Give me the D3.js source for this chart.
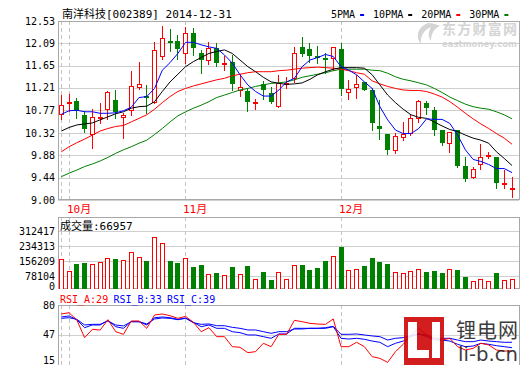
<!DOCTYPE html>
<html>
<head>
<meta charset="utf-8">
<script src="https://cdn.jsdelivr.net/npm/d3@7"></script>
<style>
body { margin: 0; background: #fff; }
svg { display: block; }
</style>
</head>
<body>
<svg id="main" width="520" height="365"></svg>
<script>
const title = "南洋科技[002389] 2014-12-31";
const priceTicks = [9.00, 9.44, 9.88, 10.32, 10.77, 11.21, 11.65, 12.09, 12.53];
const volTicks = [0, 78104, 156209, 234313, 312417];
const rsiTicks = [15, 47, 80];
const monthStarts = [0, 1, 16, 36];
const monthIdx = [1, 16, 36];
const monthNames = ["10月", "11月", "12月"];
const maNames = ["5PMA", "10PMA", "20PMA", "30PMA"];
const rsiNames = ["RSI_A:29", "RSI_B:33", "RSI_C:39"];
const volTitle = "成交量:66957";

const open = [10.69,10.92,10.95,10.67,10.31,10.61,10.79,10.97,10.63,10.77,
  11.22,11.05,10.93,11.83,12.14,12.13,11.89,12.29,11.89,11.76,
  11.99,11.70,11.72,11.16,11.15,10.92,11.29,11.11,10.86,11.30,
  11.40,12.01,11.97,11.84,11.80,11.81,11.97,11.13,11.22,11.32,
  11.17,10.46,10.30,9.99,10.25,10.33,10.61,10.92,10.77,10.38,
  10.13,10.38,9.67,9.45,9.71,9.88,9.84,9.32,9.23];
const close = [10.87,10.93,10.76,10.41,10.64,10.63,11.12,10.73,10.67,11.24,
  11.28,11.03,11.95,12.19,12.13,11.98,12.29,12.00,11.77,11.99,
  11.70,11.71,11.28,11.22,10.93,10.93,11.17,10.94,11.31,11.31,
  11.89,11.87,11.83,11.83,11.79,12.01,11.18,11.18,11.29,11.17,
  10.52,10.41,9.99,10.26,10.31,10.61,10.95,10.81,10.39,10.13,
  10.35,9.67,9.41,9.62,9.85,9.89,9.33,9.33,9.24];
const high = [11.07,11.09,11.02,10.76,10.79,10.91,11.14,11.17,10.71,11.54,
  11.72,11.27,12.12,12.43,12.37,12.25,12.42,12.39,11.95,12.12,
  12.09,11.83,11.86,11.49,11.20,11.00,11.35,11.23,11.46,11.43,
  12.02,12.22,12.09,12.04,11.89,12.02,12.09,11.37,11.46,11.33,
  11.20,10.97,10.30,10.33,10.53,10.70,10.98,10.96,10.84,10.39,
  10.35,10.39,9.84,9.66,10.10,9.95,9.85,9.59,9.45];
const low = [10.59,10.76,10.62,10.35,10.03,10.51,10.60,10.61,10.22,10.68,
  11.18,10.72,10.91,11.79,11.93,11.79,11.71,11.86,11.50,11.68,
  11.65,11.56,11.17,11.05,10.76,10.79,11.00,10.91,10.84,11.20,
  11.33,11.83,11.73,11.70,11.50,11.56,11.07,11.00,11.02,11.16,
  10.39,10.20,9.91,9.93,10.18,10.28,10.54,10.70,10.28,10.08,
  9.95,9.66,9.38,9.43,9.62,9.82,9.23,9.23,9.05];
const volume = [169000,107000,143000,148000,143000,154000,174000,166000,164000,206000,
  180000,159000,279000,253000,160000,145000,174000,124000,138000,91000,
  96000,86000,124000,91000,133000,65000,102000,60000,100000,65000,
  138000,138000,112000,122000,159000,185000,228000,112000,117000,133000,
  171000,150000,143000,100000,95000,107000,117000,102000,107000,96000,
  117000,112000,77000,55000,65000,55000,96000,60000,66957];

const ma5 = [10.69,10.76,10.77,10.74,10.74,10.71,10.71,10.72,10.76,10.83,
  11.02,11.04,11.20,11.56,11.71,11.89,12.11,12.11,12.06,12.02,
  11.99,11.86,11.70,11.47,11.27,11.14,11.05,11.05,11.17,11.33,
  11.40,11.63,11.76,11.81,11.87,11.83,11.63,11.56,11.47,11.33,
  11.20,10.84,10.58,10.38,10.31,10.31,10.41,10.60,10.59,10.59,
  10.51,10.28,9.99,9.80,9.76,9.70,9.62,9.62,9.54];
const ma10 = [10.36,10.43,10.48,10.50,10.52,10.58,10.64,10.70,10.74,10.81,
  10.84,10.85,10.94,11.14,11.33,11.48,11.63,11.73,11.81,11.89,
  11.93,11.96,11.89,11.76,11.63,11.53,11.42,11.33,11.30,11.28,
  11.29,11.31,11.38,11.47,11.53,11.58,11.61,11.61,11.61,11.60,
  11.47,11.27,11.07,10.92,10.79,10.68,10.63,10.61,10.54,10.46,
  10.39,10.35,10.28,10.22,10.18,10.12,9.95,9.82,9.68];
const ma20 = [9.95,10.05,10.13,10.20,10.28,10.36,10.41,10.45,10.47,10.54,
  10.61,10.68,10.79,10.92,11.04,11.14,11.20,11.25,11.29,11.33,
  11.37,11.40,11.45,11.48,11.51,11.53,11.53,11.53,11.55,11.56,
  11.58,11.60,11.61,11.62,11.61,11.60,11.58,11.55,11.51,11.48,
  11.35,11.29,11.24,11.20,11.17,11.16,11.16,11.14,11.09,11.03,
  10.94,10.83,10.71,10.60,10.50,10.41,10.31,10.22,10.10];
const ma30 = [9.46,9.53,9.59,9.66,9.71,9.77,9.84,9.92,9.99,10.05,
  10.12,10.18,10.29,10.41,10.54,10.66,10.74,10.81,10.87,10.94,
  11.02,11.07,11.12,11.17,11.20,11.24,11.27,11.30,11.31,11.33,
  11.37,11.42,11.45,11.48,11.51,11.55,11.58,11.58,11.58,11.58,
  11.56,11.55,11.50,11.43,11.38,11.35,11.31,11.27,11.20,11.12,
  11.03,10.96,10.89,10.84,10.81,10.79,10.74,10.68,10.60];

const rsiA = [70.1,71.5,63.5,44.0,53.2,52.4,63.8,50.6,47.7,62.4,
  62.4,54.3,69.0,70.1,68.2,65.3,67.5,60.9,50.6,55.0,
  45.1,45.1,34.1,33.4,27.5,28.6,37.8,34.1,47.7,47.7,
  63.1,61.6,59.8,59.0,58.7,64.6,34.1,34.1,38.9,34.1,
  23.1,21.2,16.8,28.6,36.7,47.0,54.3,47.0,43.3,41.4,
  43.3,34.1,30.4,32.3,37.8,36.0,30.4,29.3,29.3];
const rsiB = [66.8,67.9,63.8,55.0,58.0,58.0,63.1,56.1,54.3,61.6,
  61.6,58.0,66.0,66.8,66.0,64.2,65.7,60.9,56.1,58.0,
  54.3,54.3,50.6,49.5,47.0,47.0,45.1,43.3,48.1,48.1,
  54.3,54.3,54.3,54.3,54.3,56.1,43.3,42.5,43.3,42.2,
  40.3,38.9,34.1,37.8,40.3,45.1,48.8,45.1,41.4,41.4,
  40.3,36.7,34.1,34.8,37.8,36.7,35.2,34.1,33.0];
const rsiC = [65.3,66.0,64.2,58.0,58.7,58.7,62.4,58.0,56.9,61.6,
  61.6,59.1,64.6,65.7,65.3,63.8,65.3,60.5,58.7,59.1,
  57.2,57.2,55.4,54.3,52.5,52.5,50.6,48.8,50.6,50.6,
  53.6,53.6,54.3,54.3,55.0,56.5,47.7,47.7,48.1,47.0,
  45.9,45.1,41.4,43.3,44.0,46.2,47.7,47.0,43.3,43.3,
  43.3,41.4,39.6,39.6,41.4,40.3,39.6,38.9,38.9];

const UP = '#ff0000', DOWN = '#008000';
const MONO = "'DejaVu Sans Mono', 'Noto Sans CJK SC', monospace";

function draw() {
    const svg = d3.select("#main");
    const L = 58, R = 519;
    const x = d3.scaleLinear().domain([0, open.length - 1]).range([60.8, 511.5]);
    const yP = d3.scaleLinear().domain([9, 12.53]).range([200, 21]);
    const yV = d3.scaleLinear().domain([0, 312417]).range([291.5, 231]);
    const yR = d3.scaleLinear().domain([15, 80]).range([364, 305]);
    const px = i => Math.round(x(i));
    const crisp = v => Math.round(v) + 0.5;

    const defs = svg.append('defs');
    defs.append('clipPath').attr('id', 'cMain').append('rect').attr('x', L).attr('y', 21).attr('width', R - L).attr('height', 179);
    defs.append('clipPath').attr('id', 'cVol').append('rect').attr('x', L).attr('y', 217).attr('width', R - L).attr('height', 72);
    defs.append('clipPath').attr('id', 'cRsi').append('rect').attr('x', L).attr('y', 305).attr('width', R - L).attr('height', 60);

    // grid lines
    const grid = svg.append('g').attr('stroke', '#cfcfcf').attr('shape-rendering', 'crispEdges');
    priceTicks.forEach(t => grid.append('line').attr('x1', L).attr('x2', R).attr('y1', crisp(yP(t))).attr('y2', crisp(yP(t))));
    volTicks.slice(1).forEach(t => grid.append('line').attr('x1', L).attr('x2', R).attr('y1', crisp(yV(t))).attr('y2', crisp(yV(t))));
    grid.append('line').attr('x1', L).attr('x2', R).attr('y1', crisp(yR(47))).attr('y2', crisp(yR(47)));

    // month dashes
    const dash = svg.append('g').attr('stroke', '#c4c4c4').attr('stroke-dasharray', '4,3');
    monthStarts.forEach(i => {
        [[21, 200], [217, 289], [305, 365]].forEach(r => {
            dash.append('line').attr('x1', px(i) + 0.5).attr('x2', px(i) + 0.5).attr('y1', r[0]).attr('y2', r[1]);
        });
    });

    // frames
    const frame = svg.append('g').attr('stroke', '#a8a8a8').attr('fill', 'none').attr('shape-rendering', 'crispEdges');
    frame.append('rect').attr('x', L + 0.5).attr('y', 21.5).attr('width', R - L).attr('height', 178);
    frame.append('rect').attr('x', L + 0.5).attr('y', 217.5).attr('width', R - L).attr('height', 71);
    frame.append('rect').attr('x', L + 0.5).attr('y', 305.5).attr('width', R - L).attr('height', 62);

    // watermark eastmoney
    const wm = svg.append('g').attr('fill', '#d4d4d4');
    wm.append('path').attr('d', 'M428,23 C416,28 416,38 421,44 C420,36 424,30 431,27 C428,32 428,37 431,41 C431,33 435,28 440,26 C436,24 432,23 428,23 Z');
    wm.append('text').attr('x', 442).attr('y', 34).attr('font-family', "'Noto Sans CJK SC'").attr('font-weight', 'bold')
        .attr('font-size', 14).attr('textLength', 75).text('东方财富网');
    wm.append('text').attr('x', 442).attr('y', 47).attr('font-family', 'DejaVu Sans').attr('font-weight', 'bold')
        .attr('font-size', 8).attr('textLength', 75).attr('lengthAdjust', 'spacingAndGlyphs').text('eastmoney.com');

    // candles
    const cg = svg.append('g').attr('clip-path', 'url(#cMain)').attr('shape-rendering', 'crispEdges');
    open.forEach((o, i) => {
        const c = close[i];
        const up = c >= o;
        const col = up ? UP : DOWN;
        const p = px(i);
        cg.append('line').attr('x1', p + 0.5).attr('x2', p + 0.5)
            .attr('y1', Math.round(yP(high[i]))).attr('y2', Math.round(yP(low[i])) + 1).attr('stroke', col);
        const top = Math.round(yP(Math.max(o, c)));
        const bot = Math.round(yP(Math.min(o, c)));
        if (up) {
            cg.append('rect').attr('x', p - 1.5).attr('y', top + 0.5).attr('width', 4)
                .attr('height', Math.max(1, bot - top)).attr('fill', '#fff').attr('stroke', col);
        } else {
            cg.append('rect').attr('x', p - 2).attr('y', top).attr('width', 5)
                .attr('height', Math.max(2, bot - top)).attr('fill', col);
        }
    });

    // moving averages
    const maLine = d3.line().x((d, i) => x(i) + 0.5).y(d => yP(d));
    const mas = [[ma30, DOWN], [ma20, UP], [ma10, '#000'], [ma5, '#0000ff']];
    const mg = svg.append('g').attr('clip-path', 'url(#cMain)').attr('fill', 'none');
    mas.forEach(m => mg.append('path').attr('d', maLine(m[0])).attr('stroke', m[1]).attr('stroke-width', 1));

    // volume
    const vg = svg.append('g').attr('clip-path', 'url(#cVol)').attr('shape-rendering', 'crispEdges');
    volume.forEach((v, i) => {
        const up = close[i] >= open[i];
        const p = px(i);
        const top = Math.round(yV(v));
        if (up) {
            vg.append('rect').attr('x', p - 1.5).attr('y', top + 0.5).attr('width', 4).attr('height', 289 - top)
                .attr('fill', '#fff').attr('stroke', UP);
        } else {
            vg.append('rect').attr('x', p - 2).attr('y', top).attr('width', 5).attr('height', 290 - top).attr('fill', DOWN);
        }
    });

    // rsi
    const rLine = d3.line().x((d, i) => x(i) + 0.5).y(d => yR(d));
    const rg = svg.append('g').attr('clip-path', 'url(#cRsi)').attr('fill', 'none');
    [[rsiC, '#0000ff'], [rsiB, '#0000ff'], [rsiA, UP]].forEach(r => rg.append('path').attr('d', rLine(r[0])).attr('stroke', r[1]));

    // li-b.cn watermark
    const lb = svg.append('g').attr('opacity', 0.88);
    lb.append('rect').attr('x', 404).attr('y', 317).attr('width', 40).attr('height', 48).attr('fill', '#cc0000');
    lb.append('rect').attr('x', 408).attr('y', 322).attr('width', 9).attr('height', 36).attr('fill', '#fff');
    lb.append('rect').attr('x', 408).attr('y', 350).attr('width', 21).attr('height', 8).attr('fill', '#fff');
    lb.append('rect').attr('x', 432).attr('y', 322).attr('width', 8).attr('height', 36).attr('fill', '#fff');
    lb.append('text').attr('x', 456).attr('y', 338).attr('font-family', "'Noto Sans CJK SC'").attr('font-size', 20)
        .attr('textLength', 62).attr('fill', '#222').text('锂电网');
    lb.append('text').attr('x', 458).attr('y', 361).attr('font-family', "'DejaVu Sans'").attr('font-size', 19)
        .attr('textLength', 60).attr('lengthAdjust', 'spacingAndGlyphs').attr('fill', '#222').text('li-b.cn');

    // texts
    const txt = svg.append('g').attr('font-family', MONO).attr('font-size', 10).attr('fill', '#000');
    txt.append('text').attr('x', 62).attr('y', 18).attr('font-size', 11).text(title);

    let lx = 331;
    maNames.forEach((n, k) => {
        txt.append('text').attr('x', lx).attr('y', 17.5).text(n);
        lx += n.length * 6.02 + 5;
        txt.append('rect').attr('x', lx).attr('y', 14).attr('width', 4).attr('height', 2).attr('fill', mas[3 - k][1]);
        lx += 13;
    });

    priceTicks.forEach(t => txt.append('text').attr('x', 55).attr('y', yP(t)).attr('dy', '0.35em')
        .attr('text-anchor', 'end').text(t.toFixed(2)));
    volTicks.forEach(t => txt.append('text').attr('x', 55).attr('y', Math.min(yV(t), 286)).attr('dy', '0.35em')
        .attr('text-anchor', 'end').text(t));
    rsiTicks.forEach(t => txt.append('text').attr('x', 55).attr('y', Math.min(yR(t), 360)).attr('dy', '0.35em')
        .attr('text-anchor', 'end').text(t));

    monthIdx.forEach((i, k) => txt.append('text').attr('x', px(i) - 2).attr('y', 213).attr('font-size', 11)
        .attr('fill', UP).text(monthNames[k]));

    txt.append('text').attr('x', 60).attr('y', 230).attr('font-size', 11).text(volTitle);

    const rsiCols = [UP, '#0000ff', '#0000ff'];
    rsiNames.forEach((n, k) => txt.append('text').attr('x', 60 + k * 53.5).attr('y', 303)
        .attr('fill', rsiCols[k]).text(n));
}

draw();
</script>
</body>
</html>
